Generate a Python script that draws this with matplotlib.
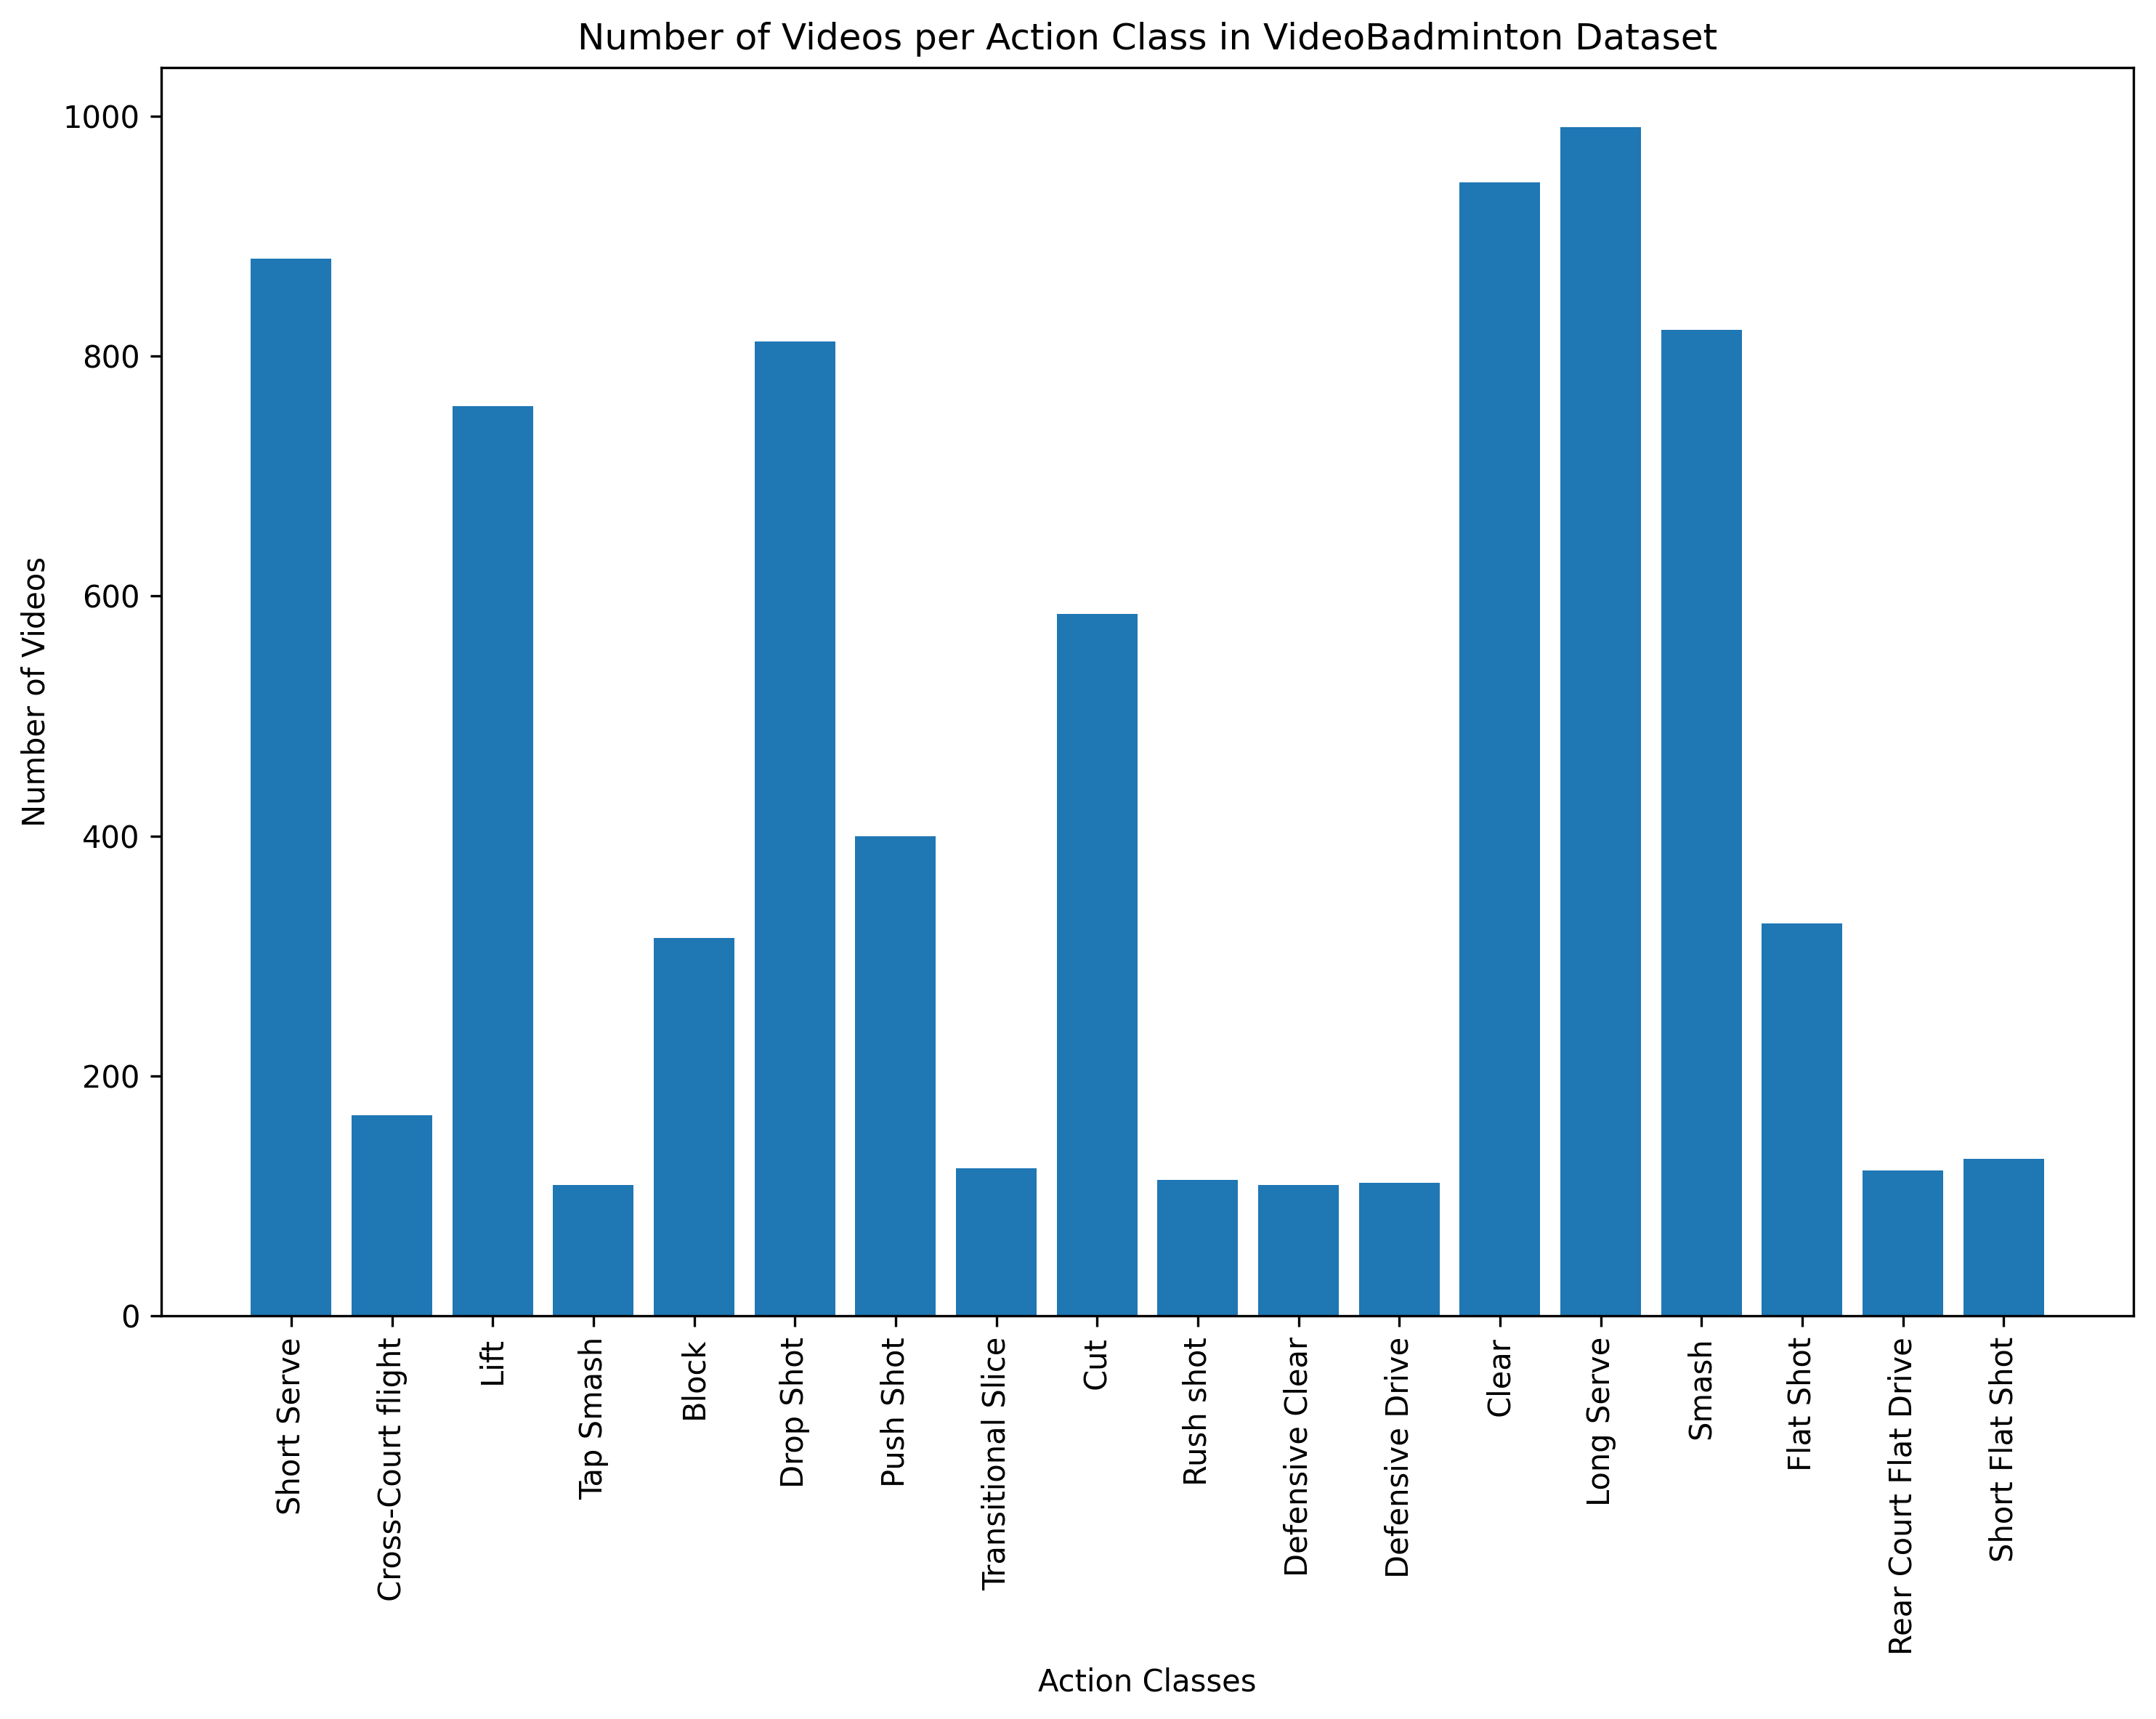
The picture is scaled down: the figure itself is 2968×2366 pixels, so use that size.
import matplotlib
matplotlib.use("Agg")
import matplotlib.pyplot as plt

classes = [
    "Short Serve", "Cross-Court flight", "Lift", "Tap Smash", "Block",
    "Drop Shot", "Push Shot", "Transitional Slice", "Cut", "Rush shot",
    "Defensive Clear", "Defensive Drive", "Clear", "Long Serve", "Smash",
    "Flat Shot", "Rear Court Flat Drive", "Short Flat Shot",
]
counts = [881, 167, 758, 109, 315, 812, 400, 123, 585, 113,
          109, 111, 945, 991, 822, 327, 121, 131]

fig, ax = plt.subplots(figsize=(2968 / 300, 2366 / 300), dpi=300)
fig.subplots_adjust(left=0.0748, right=0.9896, top=0.9607, bottom=0.2346)

ax.bar(classes, counts, color="#1f77b4")
ax.set_title("Number of Videos per Action Class in VideoBadminton Dataset")
ax.set_xlabel("Action Classes")
ax.set_ylabel("Number of Videos")
ax.tick_params(axis="x", rotation=90)

fig.savefig("out.png", dpi=300)
